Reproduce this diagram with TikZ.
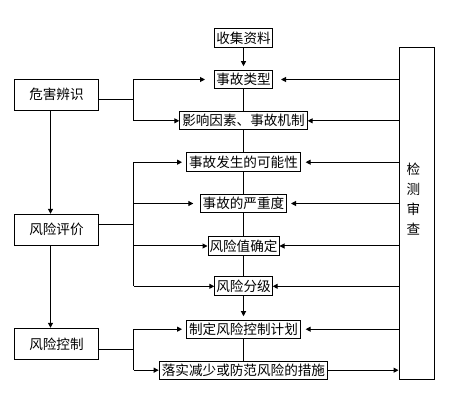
\documentclass[tikz,border=0pt]{standalone}
\usepackage{fontspec}
\setmainfont{Noto Sans CJK SC}
\usetikzlibrary{arrows.meta,calc}
\begin{document}
\begin{tikzpicture}[x=1pt,y=-1pt, line width=1pt,
  box/.style={draw, inner sep=0pt, font=\fontsize{13.6}{14}\selectfont},
  arr/.style={-{Triangle[length=5pt,width=5pt]}}]
\useasboundingbox (0,0) rectangle (451,396);
% centre column
\node[box, minimum width=57.4pt, minimum height=18.7pt] (sj) at (243.5,38.3) {收集资料};
\node[box, minimum width=57.4pt, minimum height=17.6pt] (lx) at (243.5,79.5) {事故类型};
\node[box, minimum width=127.4pt, minimum height=18.3pt] (yx) at (243.5,120.8) {影响因素、事故机制};
\node[box, minimum width=113.3pt, minimum height=19pt] (kn) at (243.5,162.2) {事故发生的可能性};
\node[box, minimum width=86pt, minimum height=18.4pt] (yz) at (243.5,203.5) {事故的严重度};
\node[box, minimum width=71pt, minimum height=18.6pt] (fz) at (243.5,246) {风险值确定};
\node[box, minimum width=57.4pt, minimum height=19.3pt] (fj) at (243.5,286.3) {风险分级};
\node[box, minimum width=113.3pt, minimum height=18.3pt] (zd) at (243.5,329.2) {制定风险控制计划};
\node[box, minimum width=168.6pt, minimum height=18.3pt] (ls) at (243.5,370.2) {落实减少或防范风险的措施};
% left column
\node[box, minimum width=84.4pt, minimum height=30.7pt] (wh) at (56.5,94.7) {危害辨识\hspace{10pt}};
\node[box, minimum width=84.4pt, minimum height=31pt] (pj) at (56.5,229.8) {风险评价\hspace{10pt}};
\node[box, minimum width=84.4pt, minimum height=31pt] (kz) at (56.5,343.8) {风险控制\hspace{10pt}};
% right box
\node[draw, inner sep=0pt, minimum width=35.3pt, minimum height=332.3pt] (jc) at (416.7,213.8) {};
\node[font=\fontsize{13.6}{20}\selectfont, align=center, inner sep=0pt] (jct) at (413.5,199.5) {检\\测\\审\\查};
% bus coordinates
\coordinate (b1) at (133.5,99.3);
\coordinate (b2) at (133.5,224.3);
\coordinate (b3) at (133.5,349.3);
% centre vertical links
\draw[arr, shorten >=4pt] (sj) -- (lx);
\draw (lx) -- (yx);
\draw (yx) -- (kn);
\draw (kn) -- (yz);
\draw (yz) -- (fz);
\draw (fz) -- (fj);
\draw[arr, shorten >=3.3pt] (fj) -- (zd);
\draw (zd) -- (ls);
% left vertical links
\draw[arr] (wh.south -| 50.5,0) -- (pj.north -| 50.5,0);
\draw[arr] (pj.south -| 50.5,0) -- (kz.north -| 50.5,0);
% bus 1
\draw (wh.east |- b1) -- (b1);
\draw (b1 |- lx) -- (b1 |- yx);
\draw[arr, shorten >=9.3pt] (b1 |- lx) -- (lx.west);
\draw[arr] (b1 |- yx) -- (yx.west);
% bus 2
\draw (pj.east |- b2) -- (b2);
\draw (b2 |- kn) -- (b2 |- fj);
\draw[arr, shorten >=4.3pt] (b2 |- kn) -- (kn.west);
\draw[arr, shorten >=6.7pt] (b2 |- yz) -- (yz.west);
\draw[arr] (b2 |- fz) -- (fz.west);
\draw[arr] (b2 |- fj) -- (fj.west);
% bus 3
\draw (kz.east |- b3) -- (b3);
\draw (b3 |- zd) -- (b3 |- ls);
\draw[arr, shorten >=4.3pt] (b3 |- zd) -- (zd.west);
\draw[arr] (b3 |- ls) -- (ls.west);
% right feedback
\draw[arr, shorten >=8.3pt] (jc.west |- lx) -- (lx.east);
\draw[arr] (jc.west |- yx) -- (yx.east);
\draw[arr, shorten >=5pt] (jc.west |- kn) -- (kn.east);
\draw[arr, shorten >=4pt] (jc.west |- yz) -- (yz.east);
\draw[arr] (jc.west |- fz) -- (fz.east);
\draw[arr] (jc.west |- fj) -- (fj.east);
\draw[arr, shorten >=5pt] (jc.west |- zd) -- (zd.east);
\draw[arr] (ls.east) -- (jc.west |- ls);
\end{tikzpicture}
\end{document}
